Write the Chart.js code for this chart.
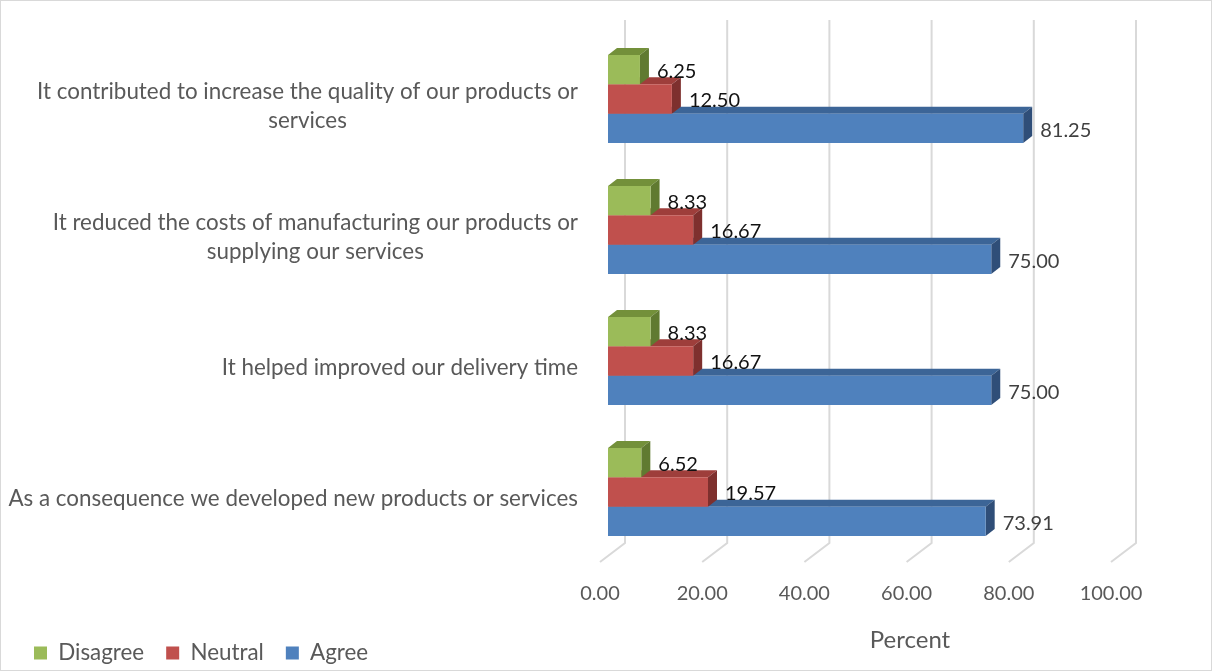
<!DOCTYPE html>
<html>
<head>
<meta charset="utf-8">
<title>Percent</title>
<script src="https://cdn.jsdelivr.net/npm/chart.js@4"></script>
<style>
  html, body { margin: 0; padding: 0; background: #fff; }
</style>
</head>
<body>
<canvas id="chart" width="1212" height="671"></canvas>
<script>
// --- data ---
const categories = [
    ['It contributed to increase the quality of our products or', 'services'],
    ['It reduced the costs of manufacturing our products or', 'supplying our services'],
    ['It helped improved our delivery time'],
    ['As a consequence we developed new products or services']
];
const disagree = [6.25, 8.33, 8.33, 6.52];
const neutral = [12.50, 16.67, 16.67, 19.57];
const agree = [81.25, 75.00, 75.00, 73.91];
const xTicks = [0, 20, 40, 60, 80, 100];
const axisTitle = 'Percent';

const FONT = 'Lato, "Open Sans", sans-serif';
const GREY = '#595959';

// front / top / side colours for the 3D boxes
const faces = [
    { front: '#9BBB59', top: '#73903A', side: '#607A31' },
    { front: '#C0504D', top: '#9E3E3B', side: '#7E302E' },
    { front: '#4F81BD', top: '#3C6597', side: '#2F4E78' }
];
const labelColors = ['#111111', '#111111', '#404040'];

// 3D geometry, relative to the bars' front plane
const BAR_DX = 9, BAR_DY = -7;
const WALL_DX = 17, WALL_TOP = 20, WALL_BOTTOM_OFF = -14.5;
const FLOOR_DX = -8, FLOOR_OFF = 4.5;

const threeD = {
    id: 'threeD',
    beforeDatasetsDraw(chart) {
        const { ctx, chartArea, scales: { x } } = chart;
        const wallBottom = chartArea.bottom + WALL_BOTTOM_OFF;
        const floorY = chartArea.bottom + FLOOR_OFF;

        // back wall gridlines and floor diagonals
        ctx.save();
        ctx.strokeStyle = '#D9D9D9';
        ctx.lineWidth = 2;
        xTicks.forEach(v => {
            const px = x.getPixelForValue(v);
            ctx.beginPath();
            ctx.moveTo(px + WALL_DX, WALL_TOP);
            ctx.lineTo(px + WALL_DX, wallBottom);
            ctx.lineTo(px + FLOOR_DX, floorY);
            ctx.stroke();
        });

        // top and side faces, bottom dataset first so upper boxes overlap
        for (let d = chart.data.datasets.length - 1; d >= 0; d--) {
            const meta = chart.getDatasetMeta(d);
            meta.data.forEach(bar => {
                const left = bar.base, right = bar.x;
                const top = bar.y - bar.height / 2, bottom = bar.y + bar.height / 2;
                ctx.fillStyle = faces[d].top;
                ctx.beginPath();
                ctx.moveTo(left, top);
                ctx.lineTo(left + BAR_DX, top + BAR_DY);
                ctx.lineTo(right + BAR_DX, top + BAR_DY);
                ctx.lineTo(right, top);
                ctx.closePath();
                ctx.fill();
                ctx.fillStyle = faces[d].side;
                ctx.beginPath();
                ctx.moveTo(right, top);
                ctx.lineTo(right + BAR_DX, top + BAR_DY);
                ctx.lineTo(right + BAR_DX, bottom + BAR_DY);
                ctx.lineTo(right, bottom);
                ctx.closePath();
                ctx.fill();
            });
        }
        ctx.restore();
    },
    afterDatasetsDraw(chart) {
        const { ctx, chartArea, scales: { y } } = chart;
        ctx.save();

        // value labels
        ctx.font = '20px ' + FONT;
        ctx.textAlign = 'left';
        ctx.textBaseline = 'middle';
        chart.data.datasets.forEach((ds, d) => {
            ctx.fillStyle = labelColors[d];
            chart.getDatasetMeta(d).data.forEach((bar, i) => {
                ctx.fillText(ds.data[i].toFixed(2), bar.x + 17, bar.y + 2);
            });
        });

        // category labels: block right-aligned, lines centred inside the block
        ctx.font = '22.4px ' + FONT;
        ctx.fillStyle = GREY;
        ctx.textAlign = 'center';
        const right = chartArea.left - 30;
        const lineH = 29;
        categories.forEach((lines, i) => {
            const cy = y.getPixelForValue(i) + 7;
            const widest = Math.max(...lines.map(l => ctx.measureText(l).width));
            const cx = right - widest / 2;
            lines.forEach((l, k) => {
                ctx.fillText(l, cx, cy + (k - (lines.length - 1) / 2) * lineH);
            });
        });

        // axis title
        ctx.font = '24px ' + FONT;
        ctx.fillText(axisTitle, 910, 640);
        ctx.restore();
    },
    afterDraw(chart) {
        const { ctx } = chart;
        ctx.save();
        ctx.strokeStyle = '#D9D9D9';
        ctx.lineWidth = 1;
        ctx.strokeRect(0.5, 0.5, chart.width - 1, chart.height - 1);
        ctx.restore();
    }
};

const chart = new Chart(document.getElementById('chart'), {
    type: 'bar',
    data: {
        labels: categories,
        datasets: [
            { label: 'Disagree', data: disagree, backgroundColor: faces[0].front },
            { label: 'Neutral', data: neutral, backgroundColor: faces[1].front },
            { label: 'Agree', data: agree, backgroundColor: faces[2].front }
        ]
    },
    options: {
        indexAxis: 'y',
        responsive: false,
        animation: false,
        devicePixelRatio: 1,
        categoryPercentage: 0.67,
        barPercentage: 1.0,
        layout: { padding: { left: 12, right: 93, top: 33.5, bottom: -3.2 } },
        scales: {
            x: {
                min: 0, max: 100,
                afterBuildTicks: (scale) => { scale.ticks = xTicks.map(v => ({ value: v })); },
                afterFit: (scale) => { scale.height = 62.3; },
                grid: { display: false, drawTicks: false },
                border: { display: false },
                ticks: {
                    padding: 24,
                    labelOffset: -8,
                    color: GREY,
                    font: { family: FONT, size: 20 },
                    callback: v => Number(v).toFixed(2)
                }
            },
            y: {
                afterFit: (scale) => { scale.width = 596; },
                grid: { display: false, drawTicks: false },
                border: { display: false },
                ticks: { display: false }
            }
        },
        plugins: {
            legend: {
                position: 'bottom',
                align: 'start',
                labels: {
                    boxWidth: 13,
                    boxHeight: 13,
                    padding: 22,
                    color: GREY,
                    font: { family: FONT, size: 22.4 }
                }
            },
            tooltip: { enabled: false }
        }
    },
    plugins: [threeD]
});
</script>
</body>
</html>
